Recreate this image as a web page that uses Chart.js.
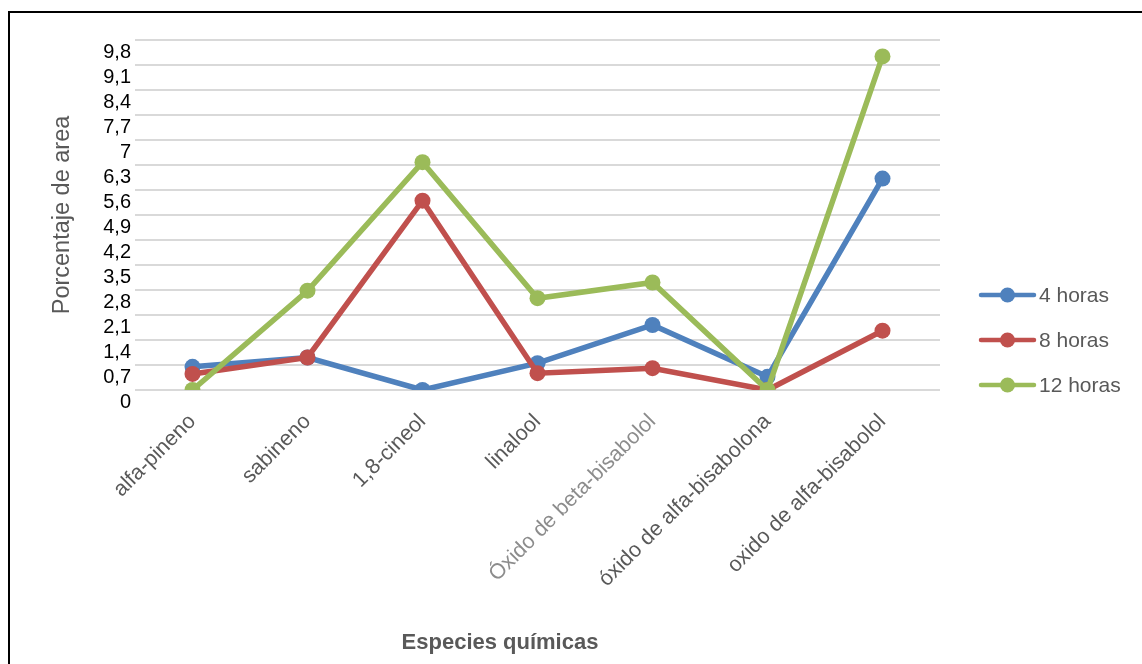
<!DOCTYPE html>
<html>
<head>
<meta charset="utf-8">
<script src="https://cdn.jsdelivr.net/npm/chart.js@4.4.1/dist/chart.umd.min.js"></script>
<style>
    html, body { margin: 0; padding: 0; background: #fff; }
    #wrap { position: relative; width: 1142px; height: 664px; overflow: hidden; }
    #frame { position: absolute; left: 8px; top: 11px; right: -10px; bottom: -10px;
             border-top: 2px solid #000; border-left: 2px solid #000; pointer-events: none; }
</style>
</head>
<body>
<div id="wrap">
    <canvas id="chart" width="1142" height="664"></canvas>
    <div id="frame"></div>
</div>
<script>
// Data
const species = ['alfa-pineno', 'sabineno', '1,8-cineol', 'linalool',
    'Óxido de beta-bisabolol', 'óxido de alfa-bisabolona', 'oxido de alfa-bisabolol'];
const seriesNames = ['4 horas', '8 horas', '12 horas'];
const horas4 = [0.65, 0.91, 0.0, 0.75, 1.82, 0.37, 5.92];
const horas8 = [0.45, 0.91, 5.30, 0.47, 0.61, 0.0, 1.66];
const horas12 = [0.0, 2.78, 6.38, 2.57, 3.01, 0.0, 9.34];
const yTickValues = [0, 0.7, 1.4, 2.1, 2.8, 3.5, 4.2, 4.9, 5.6, 6.3, 7, 7.7, 8.4, 9.1, 9.8];
const yTickLabels = ['0', '0,7', '1,4', '2,1', '2,8', '3,5', '4,2', '4,9', '5,6', '6,3', '7', '7,7', '8,4', '9,1', '9,8'];

const colors = ['#4F81BD', '#C0504D', '#9BBB59'];
const grey = '#595959';

Chart.defaults.font.family = "'Liberation Sans', Arial, sans-serif";

// Excel style legend (line + marker) and x axis title
const extras = {
    id: 'extras',
    afterDraw(chart) {
        const ctx = chart.ctx;
        ctx.save();
        chart.data.datasets.forEach(function (ds, i) {
            const y = 295 + i * 45;
            ctx.strokeStyle = ds.borderColor;
            ctx.lineWidth = 4.5;
            ctx.lineCap = 'round';
            ctx.beginPath();
            ctx.moveTo(981, y);
            ctx.lineTo(1034, y);
            ctx.stroke();
            ctx.fillStyle = ds.borderColor;
            ctx.beginPath();
            ctx.arc(1007.5, y, 7.5, 0, Math.PI * 2);
            ctx.fill();
            ctx.fillStyle = grey;
            ctx.font = "21px 'Liberation Sans', Arial, sans-serif";
            ctx.textAlign = 'left';
            ctx.textBaseline = 'middle';
            ctx.fillText(ds.label, 1039, y + 1);
        });
        ctx.fillStyle = grey;
        ctx.font = "bold 22px 'Liberation Sans', Arial, sans-serif";
        ctx.textAlign = 'center';
        ctx.textBaseline = 'middle';
        ctx.fillText('Especies químicas', 500, 643);
        ctx.restore();
    }
};

const seriesValues = [horas4, horas8, horas12];

new Chart(document.getElementById('chart').getContext('2d'), {
    type: 'line',
    data: {
        labels: species,
        datasets: seriesValues.map(function (vals, i) {
            return {
                label: seriesNames[i],
                data: vals,
                borderColor: colors[i],
                backgroundColor: colors[i],
                pointBackgroundColor: colors[i],
                borderWidth: 5.5,
                pointRadius: 8,
                pointBorderWidth: 0,
                tension: 0,
                order: 3 - i
            };
        })
    },
    options: {
        responsive: false,
        animation: false,
        layout: {
            padding: { top: 40, right: 202, bottom: 0, left: 0 }
        },
        scales: {
            x: {
                offset: true,
                grid: { display: false },
                border: { display: false },
                ticks: {
                    autoSkip: false,
                    maxRotation: 45,
                    minRotation: 45,
                    padding: 11,
                    color: function (c) { return c.index === 4 ? '#8c8c8c' : grey; },
                    font: { size: 21.5 }
                },
                afterFit: function (scale) { scale.height = 274; }
            },
            y: {
                min: 0,
                max: 9.8,
                grid: { color: '#d9d9d9', lineWidth: 2, drawTicks: false },
                border: { display: false },
                afterBuildTicks: function (scale) {
                    scale.ticks = yTickValues.map(function (v) { return { value: v }; });
                },
                ticks: {
                    autoSkip: false,
                    color: '#000',
                    padding: 4,
                    labelOffset: 12,
                    font: { size: 20 },
                    callback: function (value, index) { return yTickLabels[index]; }
                },
                title: {
                    display: true,
                    text: 'Porcentaje de area',
                    color: grey,
                    font: { size: 23.5 },
                    padding: { top: 48, bottom: 0 }
                },
                afterFit: function (scale) { scale.width = 135; }
            }
        },
        plugins: {
            legend: { display: false },
            tooltip: { enabled: false }
        }
    },
    plugins: [extras]
});
</script>
</body>
</html>
